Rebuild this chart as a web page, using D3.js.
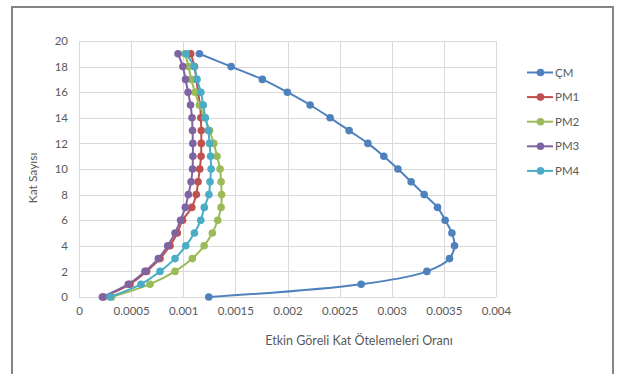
<!DOCTYPE html>
<html>
<head>
<meta charset="utf-8">
<script src="https://cdn.jsdelivr.net/npm/d3@7"></script>
<style>
  html, body { margin: 0; padding: 0; background: #fff; }
  svg { display: block; }
  text { font-family: Lato, "Open Sans", sans-serif; fill: #595959; }
</style>
</head>
<body>
<svg id="chart" width="625" height="374"></svg>
<script>
// Story index (Kat) for each point
const floors = d3.range(0, 20);

// Effective relative storey drift ratios per model
const seriesNames = ["ÇM", "PM1", "PM2", "PM3", "PM4"];
const cmValues  = [0.001245, 0.002706, 0.003337, 0.003554, 0.003602, 0.003577, 0.003512, 0.003439, 0.003311, 0.003186,
                   0.003059, 0.002924, 0.002771, 0.002591, 0.002409, 0.002217, 0.001999, 0.001759, 0.001459, 0.001155];
const pm1Values = [0.000235, 0.000489, 0.000648, 0.000777, 0.000873, 0.000943, 0.000993, 0.001082, 0.001125, 0.001142,
                   0.001158, 0.001171, 0.001173, 0.001173, 0.001169, 0.001161, 0.001142, 0.001126, 0.001108, 0.001072];
const pm2Values = [0.000314, 0.000681, 0.000921, 0.001087, 0.001200, 0.001279, 0.001331, 0.001363, 0.001368, 0.001363,
                   0.001353, 0.001324, 0.001293, 0.001252, 0.001209, 0.001155, 0.001113, 0.001077, 0.001051, 0.001017];
const pm3Values = [0.000224, 0.000473, 0.000633, 0.000761, 0.000851, 0.000921, 0.000974, 0.001020, 0.001049, 0.001075,
                   0.001089, 0.001092, 0.001092, 0.001089, 0.001084, 0.001070, 0.001046, 0.001022, 0.000996, 0.000950];
const pm4Values = [0.000298, 0.000595, 0.000777, 0.000921, 0.001024, 0.001107, 0.001168, 0.001202, 0.001246, 0.001257,
                   0.001267, 0.001262, 0.001252, 0.001241, 0.001212, 0.001192, 0.001169, 0.001132, 0.001104, 0.001027];
const seriesColors = ["#4F81BD", "#C0504D", "#9BBB59", "#8064A2", "#4BACC6"];

const xTicks = [0, 0.0005, 0.001, 0.0015, 0.002, 0.0025, 0.003, 0.0035, 0.004];
const yTicks = [0, 2, 4, 6, 8, 10, 12, 14, 16, 18, 20];

const xTitle = "Etkin Göreli Kat Ötelemeleri Oranı";
const yTitle = "Kat Sayısı";

const allValues = [cmValues, pm1Values, pm2Values, pm3Values, pm4Values];
const series = seriesNames.map((name, i) => ({
  name,
  color: seriesColors[i],
  points: floors.map((f, j) => ({ x: allValues[i][j], y: f }))
}));

const svg = d3.select("#chart");

// Outer chart frame
svg.append("rect")
  .attr("x", 12).attr("y", 7).attr("width", 601).attr("height", 420)
  .attr("fill", "#fff").attr("stroke", "#858585").attr("stroke-width", 2);

const x = d3.scaleLinear().domain([0, 0.004]).range([79, 496]);
const y = d3.scaleLinear().domain([0, 20]).range([297, 41]);

// Gridlines
const grid = svg.append("g");
grid.selectAll("line.v").data(xTicks).join("line")
  .attr("x1", d => Math.round(x(d)) + 0.5).attr("x2", d => Math.round(x(d)) + 0.5)
  .attr("y1", y(0)).attr("y2", y(20))
  .attr("stroke", "#d9d9d9").attr("stroke-width", 1);
grid.selectAll("line.h").data(yTicks).join("line")
  .attr("y1", d => Math.round(y(d)) + 0.5).attr("y2", d => Math.round(y(d)) + 0.5)
  .attr("x1", x(0)).attr("x2", x(0.004))
  .attr("stroke", "#d9d9d9").attr("stroke-width", 1);

const labelFont = "Lato, 'Open Sans', sans-serif";

// Axes (labels only, Excel style)
const xAxis = d3.axisBottom(x).tickValues(xTicks).tickSize(0).tickPadding(0)
  .tickFormat(d => d3.format("")(d));
svg.append("g").attr("transform", `translate(0, ${y(0) + 10})`).call(xAxis)
  .call(g => g.select(".domain").remove())
  .selectAll("text").attr("font-size", 11.5).attr("fill", "#595959")
  .style("font-family", labelFont);

const yAxis = d3.axisLeft(y).tickValues(yTicks).tickSize(0).tickPadding(0);
svg.append("g").attr("transform", `translate(68, 0)`).call(yAxis)
  .call(g => g.select(".domain").remove())
  .selectAll("text").attr("font-size", 11.5).attr("fill", "#595959")
  .style("font-family", labelFont);

// Axis titles
svg.append("text").attr("x", 359).attr("y", 345).attr("text-anchor", "middle")
  .attr("font-size", 12.5).text(xTitle);
svg.append("text").attr("transform", "translate(37, 178) rotate(-90)")
  .attr("text-anchor", "middle").attr("font-size", 12).text(yTitle);

// Series: smoothed lines with circular markers
const line = d3.line().x(d => x(d.x)).y(d => y(d.y)).curve(d3.curveCatmullRom.alpha(0.5));
const sg = svg.append("g").selectAll("g").data(series).join("g");
sg.append("path")
  .attr("d", d => line(d.points))
  .attr("fill", "none").attr("stroke", d => d.color).attr("stroke-width", 2);
sg.each(function(s) {
  d3.select(this).selectAll("circle").data(s.points).join("circle")
    .attr("cx", d => x(d.x)).attr("cy", d => y(d.y)).attr("r", 3.8)
    .attr("fill", s.color);
});

// Legend
const lg = svg.append("g").selectAll("g").data(series).join("g")
  .attr("transform", (d, i) => `translate(527, ${72.5 + i * 24.6})`);
lg.append("line").attr("x1", 0).attr("x2", 26).attr("y1", 0).attr("y2", 0)
  .attr("stroke", d => d.color).attr("stroke-width", 2);
lg.append("circle").attr("cx", 13.5).attr("cy", 0).attr("r", 3.8).attr("fill", d => d.color);
lg.append("text").attr("x", 28).attr("y", 0).attr("dy", "0.35em")
  .attr("font-size", 11.5).text(d => d.name);
</script>
</body>
</html>
